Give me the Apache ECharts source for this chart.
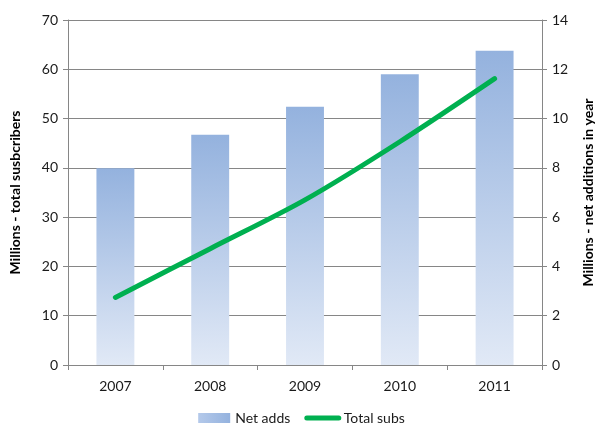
<!DOCTYPE html>
<html>
<head>
<meta charset="utf-8">
<script src="https://cdn.jsdelivr.net/npm/echarts@6/dist/echarts.min.js"></script>
<style>
html,body{margin:0;padding:0;background:#fff;}
#chart{width:603px;height:437px;}
</style>
</head>
<body>
<div id="chart"></div>
<script>
const categories = ['2007', '2008', '2009', '2010', '2011'];
const netAdds = [7.98, 9.34, 10.48, 11.8, 12.75];
const totalSubs = [13.7, 23.6, 33.5, 45.3, 58.1];
const leftTicks = {min: 0, max: 70, interval: 10};
const rightTicks = {min: 0, max: 14, interval: 2};

const FONT = 'Lato';
const chart = echarts.init(document.getElementById('chart'));
const barGrad = new echarts.graphic.LinearGradient(0, 0, 0, 1, [
  {offset: 0, color: '#94B2DE'},
  {offset: 1, color: '#E1E9F6'}
]);
chart.setOption({
  animation: false,
  textStyle: {fontFamily: FONT},
  grid: {left: 64, right: 50, top: 20, bottom: 72},
  legend: {
    bottom: 7,
    left: 'center',
    itemWidth: 32,
    itemHeight: 10,
    itemGap: 14,
    textStyle: {fontFamily: FONT, fontSize: 14, color: '#1a1a1a'},
    data: [
      {name: 'Net adds', icon: 'rect', itemStyle: {color: new echarts.graphic.LinearGradient(0, 0, 1, 0, [{offset: 0, color: '#B4C9EA'}, {offset: 1, color: '#94B2DE'}])}},
      {name: 'Total subs', itemStyle: {opacity: 0}, lineStyle: {color: '#00B050', width: 5}}
    ]
  },
  xAxis: {
    type: 'category',
    data: categories,
    boundaryGap: true,
    axisLine: {lineStyle: {color: '#868686', width: 1}},
    axisTick: {show: true, inside: false, length: 5, alignWithLabel: false, lineStyle: {color: '#868686'}},
    axisLabel: {fontFamily: FONT, fontSize: 14, color: '#1a1a1a', margin: 14}
  },
  yAxis: [
    {
      type: 'value',
      position: 'left',
      min: leftTicks.min, max: leftTicks.max, interval: leftTicks.interval,
      name: 'Millions - total susbcribers',
      nameLocation: 'middle',
      nameRotate: 90,
      nameGap: 46,
      nameTextStyle: {fontFamily: FONT, fontSize: 14, fontWeight: 'bold', color: '#000'},
      axisLine: {show: true, lineStyle: {color: '#868686'}},
      axisTick: {show: true, length: 5, lineStyle: {color: '#868686'}},
      axisLabel: {fontFamily: FONT, fontSize: 14, color: '#1a1a1a', margin: 10},
      splitLine: {show: true, lineStyle: {color: '#868686', width: 1}}
    },
    {
      type: 'value',
      position: 'right',
      min: rightTicks.min, max: rightTicks.max, interval: rightTicks.interval,
      name: 'Millions - net additions in year',
      nameLocation: 'middle',
      nameRotate: 90,
      nameGap: 39,
      nameTextStyle: {fontFamily: FONT, fontSize: 14, fontWeight: 'bold', color: '#000'},
      axisLine: {show: true, lineStyle: {color: '#868686'}},
      axisTick: {show: true, length: 5, lineStyle: {color: '#868686'}},
      axisLabel: {fontFamily: FONT, fontSize: 14, color: '#1a1a1a', margin: 10},
      splitLine: {show: false}
    }
  ],
  series: [
    {
      name: 'Net adds',
      type: 'bar',
      yAxisIndex: 1,
      data: netAdds,
      barWidth: '40%',
      itemStyle: {color: barGrad},
      z: 2
    },
    {
      name: 'Total subs',
      type: 'line',
      yAxisIndex: 0,
      data: totalSubs,
      smooth: 0.3,
      showSymbol: false,
      symbol: 'none',
      lineStyle: {color: '#00B050', width: 5, cap: 'round'},
      itemStyle: {color: '#00B050'},
      z: 3
    }
  ]
});
</script>
</body>
</html>
